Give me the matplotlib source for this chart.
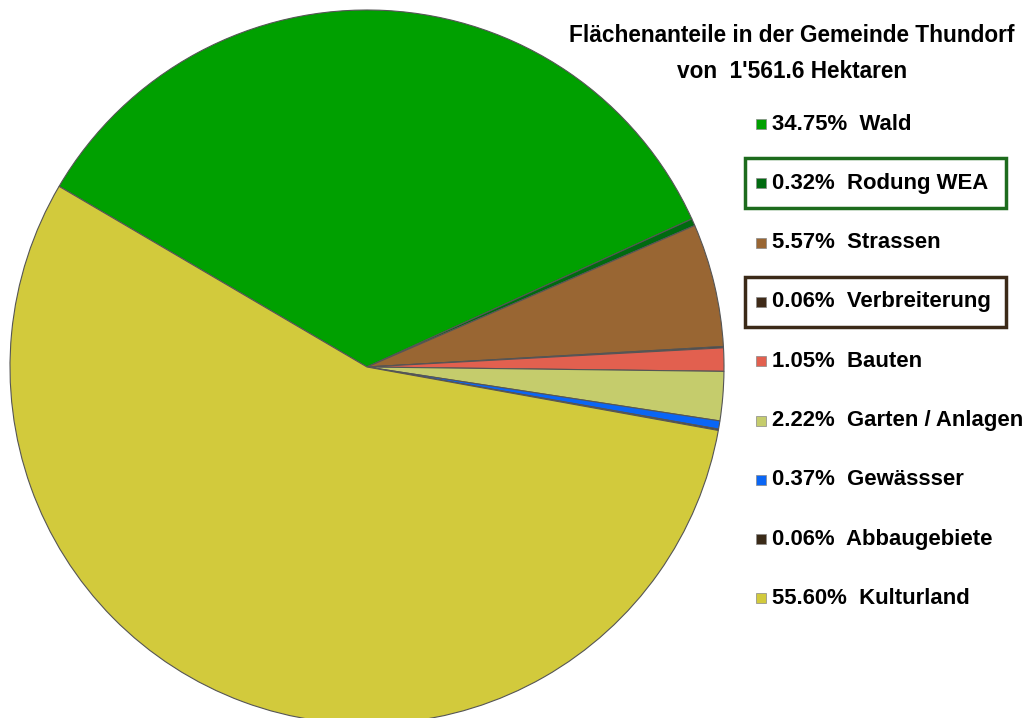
import matplotlib.pyplot as plt
from matplotlib.patches import Rectangle

plt.rcParams['font.family'] = ['Liberation Sans', 'DejaVu Sans']

# Flächenanteile Thundorf
names = ['Wald', 'Rodung WEA', 'Strassen', 'Verbreiterung', 'Bauten',
         'Garten / Anlagen', 'Gewässser', 'Abbaugebiete', 'Kulturland']
anteile = [34.75, 0.32, 5.57, 0.06, 1.05, 2.22, 0.37, 0.06, 55.60]
farben = ['#00a000', '#006a10', '#996633', '#3f2a18', '#e2604f',
          '#c5cc6c', '#0a66f5', '#3a2a18', '#d2ca3c']
titel = ['Flächenanteile in der Gemeinde Thundorf', 'von  1\'561.6 Hektaren']

W, H = 1029, 718
fig = plt.figure(figsize=(W / 100, H / 100), dpi=100)

# pie axes: centre (367,367) px, radius 357 px
cx, cy, r = 367, 367, 357
ax = fig.add_axes([(cx - r) / W, (H - cy - r) / H, 2 * r / W, 2 * r / H])
ax.pie(anteile, colors=farben, startangle=149.6, counterclock=False,
       radius=1, wedgeprops=dict(edgecolor='#555555', linewidth=0.8))
ax.set_xlim(-1, 1)
ax.set_ylim(-1, 1)
ax.axis('off')

# title
fig.text(792 / W, 1 - 36 / H, titel[0], ha='center', va='center',
         fontsize=16.3, fontweight='bold')
fig.text(792 / W, 1 - 72 / H, titel[1], ha='center', va='center',
         fontsize=16.3, fontweight='bold')

# legend
y0, dy = 124, 59.3
for i, (n, a, c) in enumerate(zip(names, anteile, farben)):
    y = y0 + i * dy
    fig.patches.append(Rectangle((756 / W, 1 - (y + 5) / H), 10 / W, 10 / H,
                                 transform=fig.transFigure, facecolor=c,
                                 edgecolor='#888888', linewidth=0.5))
    fig.text(772 / W, 1 - y / H, f'{a:.2f}%  {n}', ha='left', va='center',
             fontsize=15.9, fontweight='bold')

# frames around two entries
for i, ec in [(1, '#1d6b1d'), (3, '#3b2a18')]:
    y = y0 + i * dy
    fig.patches.append(Rectangle((745 / W, 1 - (y + 25) / H), 261 / W, 50 / H,
                                 transform=fig.transFigure, facecolor='none',
                                 edgecolor=ec, linewidth=2.5))

fig.savefig('out.png', dpi=100)
